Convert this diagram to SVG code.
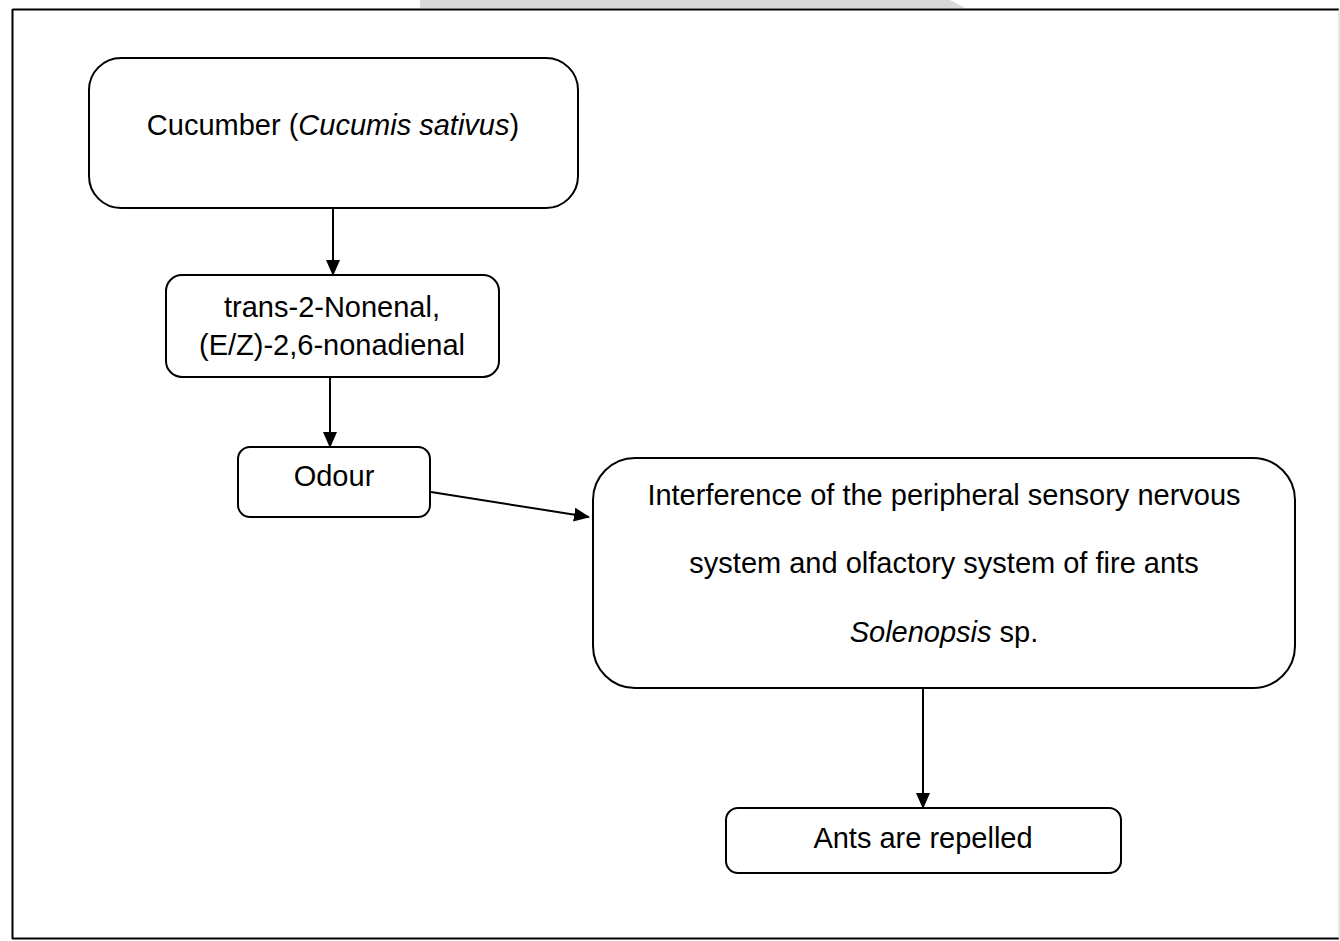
<svg xmlns="http://www.w3.org/2000/svg" width="1340" height="941" viewBox="0 0 1340 941">
  <style>
    .box { fill: #ffffff; stroke: #000000; stroke-width: 2; }
    .txt { font-family: "Liberation Sans", Arial, sans-serif; font-size: 29px; fill: #000000; text-anchor: middle; }
    .conn { stroke: #000000; stroke-width: 2; fill: none; marker-end: url(#arrow); }
  </style>
  <defs>
    <marker id="arrow" markerWidth="16" markerHeight="14" refX="15" refY="7" orient="auto" markerUnits="userSpaceOnUse">
      <path d="M0,0 L16,7 L0,14 Z" fill="#000000"/>
    </marker>
  </defs>
  <rect x="0" y="0" width="1340" height="941" fill="#ffffff"/>
  <path d="M420,0 L950,0 L965,8 L420,8 Z" fill="#d9d9d9"/>
  <g id="frame">
    <line x1="12.5" y1="9.5" x2="1339" y2="9.5" stroke="#000000" stroke-width="2"/>
    <line x1="12.5" y1="9" x2="12.5" y2="939" stroke="#000000" stroke-width="2"/>
    <line x1="12" y1="938.5" x2="1339" y2="938.5" stroke="#000000" stroke-width="2"/>
    <line x1="1339" y1="9" x2="1339" y2="939" stroke="#cccccc" stroke-width="1"/>
  </g>
  <g id="connectors">
    <line class="conn" x1="333" y1="208" x2="333" y2="275"/>
    <line class="conn" x1="330" y1="377" x2="330" y2="447"/>
    <line class="conn" x1="431" y1="492" x2="589" y2="517"/>
    <line class="conn" x1="923" y1="688" x2="923" y2="808"/>
  </g>
  <g id="node-cucumber">
    <rect class="box" x="89" y="58" width="489" height="150" rx="32" ry="32"/>
    <text class="txt" x="333" y="135">Cucumber (<tspan font-style="italic">Cucumis sativus</tspan>)</text>
  </g>
  <g id="node-nonenal">
    <rect class="box" x="166" y="275" width="333" height="102" rx="16" ry="16"/>
    <text class="txt" x="332" y="317">trans-2-Nonenal,</text>
    <text class="txt" x="332" y="355">(E/Z)-2,6-nonadienal</text>
  </g>
  <g id="node-odour">
    <rect class="box" x="238" y="447" width="192" height="70" rx="12" ry="12"/>
    <text class="txt" x="334" y="486">Odour</text>
  </g>
  <g id="node-interference">
    <rect class="box" x="593" y="458" width="702" height="230" rx="42" ry="42"/>
    <text class="txt" x="944" y="505">Interference of the peripheral sensory nervous</text>
    <text class="txt" x="944" y="573">system and olfactory system of fire ants</text>
    <text class="txt" x="944" y="642"><tspan font-style="italic">Solenopsis</tspan> sp.</text>
  </g>
  <g id="node-repelled">
    <rect class="box" x="726" y="808" width="395" height="65" rx="12" ry="12"/>
    <text class="txt" x="923" y="848">Ants are repelled</text>
  </g>
</svg>
